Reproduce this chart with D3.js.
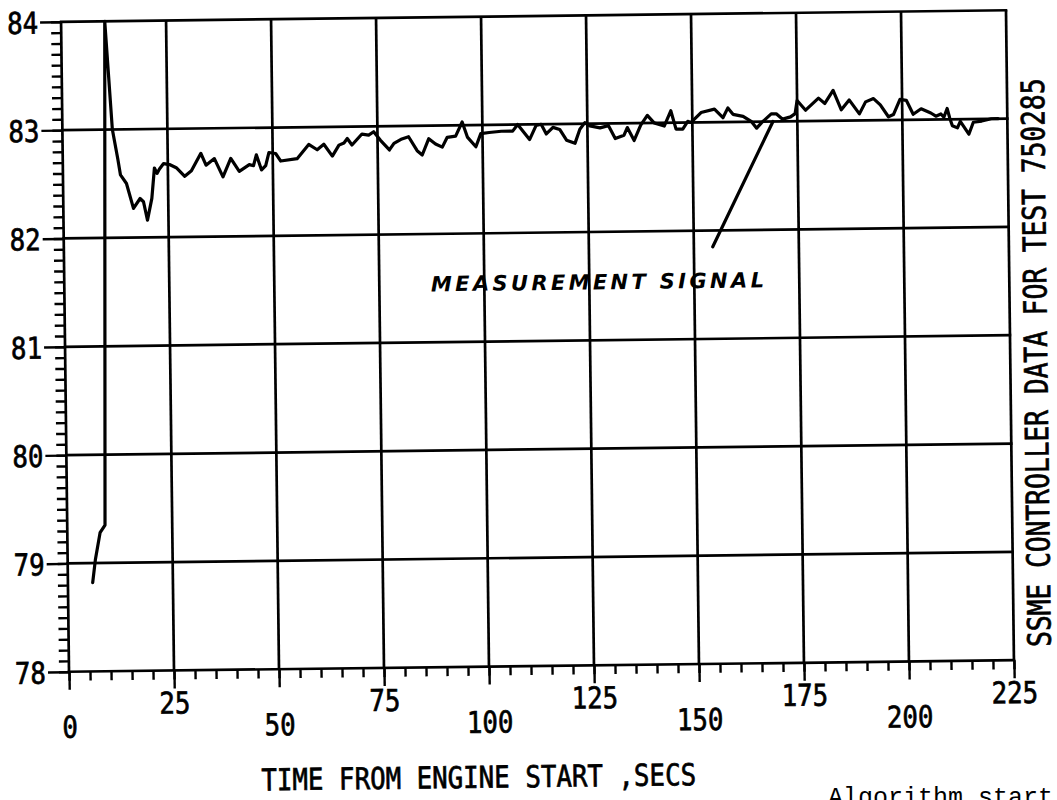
<!DOCTYPE html>
<html>
<head>
<meta charset="utf-8">
<script src="https://cdn.jsdelivr.net/npm/d3@7"></script>
<style>
  html, body { margin: 0; padding: 0; background: #fff; }
  svg { display: block; }
</style>
</head>
<body>
<script>
// Controller measurement trace, time (s) vs. signal value
const timeSecs = [5.9,6.6,7.8,9.0,10.4,11.9,13.1,13.7,15.1,16.7,18.3,19.1,20.0,21.1,21.8,22.4,23.0,24.0,25.4,27.0,29.0,30.6,32.9,34.1,36.1,38.1,40.0,42.0,44.4,45.4,46.1,47.3,48.3,49.1,50.7,51.9,55.8,58.6,60.6,62.2,64.2,65.8,67.0,67.8,68.9,71.3,72.9,74.1,75.7,77.8,78.9,80.8,82.4,84.4,85.6,87.2,88.8,90.4,91.6,93.6,95.2,96.4,98.4,99.6,101.6,104.5,107.2,108.4,111.2,112.8,114.0,115.2,116.8,118.4,120.0,122.0,123.2,124.4,125.6,128.0,130.0,131.6,133.7,134.5,136.1,137.7,139.3,140.9,143.3,144.9,146.1,147.7,148.9,149.7,152.1,155.3,157.3,158.5,159.7,162.1,164.1,165.3,166.5,168.8,170.0,171.5,173.4,174.5,175.0,177.0,180.1,181.6,183.6,185.5,187.4,189.8,191.3,193.2,194.8,196.7,197.9,199.5,201.0,202.6,204.5,206.8,208.0,209.2,209.9,210.7,211.3,211.9,213.1,213.8,215.8,216.9,218.9,221.2,222.8];
const signal = [78.82,79.03,79.28,79.35,84.0,83.0,82.73,82.58,82.50,82.27,82.36,82.33,82.16,82.36,82.64,82.59,82.63,82.68,82.67,82.64,82.56,82.61,82.77,82.66,82.72,82.55,82.72,82.60,82.66,82.65,82.75,82.61,82.65,82.77,82.76,82.69,82.71,82.84,82.79,82.84,82.73,82.83,82.85,82.89,82.83,82.93,82.92,82.95,82.87,82.78,82.84,82.88,82.90,82.77,82.73,82.88,82.83,82.80,82.89,82.90,83.03,82.89,82.80,82.92,82.93,82.94,82.94,83.0,82.86,82.99,83.0,82.91,82.97,82.95,82.85,82.82,82.95,83.01,82.98,82.96,82.98,82.86,82.89,82.96,82.84,82.98,83.07,83.0,82.97,83.11,82.94,82.94,83.01,83.0,83.09,83.12,83.04,83.13,83.07,83.05,83.0,82.94,82.99,83.07,83.07,83.02,83.04,83.07,83.19,83.10,83.21,83.16,83.28,83.10,83.19,83.06,83.17,83.20,83.14,83.03,83.05,83.19,83.18,83.05,83.10,83.06,83.03,83.05,83.02,83.10,83.01,82.94,82.92,82.98,82.86,82.97,82.98,83.0,83.0];

// Axis ticks
const xMajorTicks = [0,25,50,75,100,125,150,175,200,225];
const xMinorTicks = d3.range(0, 226, 5);
const yMajorTicks = [78,79,80,81,82,83,84];
const yMinorTicks = d3.range(780, 841, 1).map(v => v / 10);

// Text
const xTitle = "TIME FROM ENGINE START ,SECS";
const sideTitle = "SSME CONTROLLER DATA FOR TEST 750285";
const noteText = "MEASUREMENT SIGNAL";
const footText = "Algorithm start";
// Annotation pointer: [time, value] at each end, and label anchor
const notePointer = [[169.2, 83.0], [154.5, 81.85]];
const noteAnchor = [87.3, 81.47];

const W = 1057, H = 800;
const plotLeft = 65, plotTop = 16, plotW = 945, plotH = 650;
const plotFont = "'DejaVu Sans Mono', monospace";
const SX = 0.86;

const svg = d3.select("body").append("svg")
  .attr("width", W).attr("height", H)
  .style("background", "#fff");

// the whole plotter sheet sits slightly tilted
const sheet = svg.append("g")
  .attr("transform", `rotate(-0.7, ${plotLeft + plotW / 2}, ${plotTop + plotH / 2})`);

const x = d3.scaleLinear().domain([0, 225]).range([plotLeft, plotLeft + plotW]);
const y = d3.scaleLinear().domain([78, 84]).range([plotTop + plotH, plotTop]);

// plotter pen lettering: thin outline to thicken the strokes
function penText(sel, size) {
  sel.attr("font-family", plotFont).attr("font-size", size)
    .attr("fill", "#000").attr("stroke", "#000").attr("stroke-width", 0.7);
}

// grid
const grid = sheet.append("g").attr("stroke", "#000").attr("stroke-width", 2.7).attr("fill", "none");
grid.selectAll("line.v").data(xMajorTicks).join("line")
  .attr("class", "v")
  .attr("x1", d => x(d)).attr("x2", d => x(d))
  .attr("y1", y(78)).attr("y2", y(84));
grid.selectAll("line.h").data(yMajorTicks).join("line")
  .attr("class", "h")
  .attr("x1", x(0) - 1.3).attr("x2", x(225) + 1.3)
  .attr("y1", d => y(d)).attr("y2", d => y(d));

function styleAxis(g) {
  g.select(".domain").remove();
  g.selectAll(".tick line").attr("stroke", "#000").attr("stroke-width", 2.4);
}

// y axis: minor and major ticks outside the frame
sheet.append("g")
  .attr("transform", `translate(${x(0)},0)`)
  .call(d3.axisLeft(y).tickValues(yMinorTicks).tickSize(10).tickFormat(""))
  .call(styleAxis);
const yAxis = sheet.append("g")
  .attr("transform", `translate(${x(0)},0)`)
  .call(d3.axisLeft(y).tickValues(yMajorTicks).tickSize(21).tickFormat(d3.format("d")))
  .call(styleAxis);
yAxis.selectAll(".tick text")
  .call(penText, 30)
  .attr("text-anchor", "end")
  .attr("x", -23 / SX).attr("dy", 11)
  .attr("transform", `scale(${SX},1)`);

// x axis: minor and major ticks below, labels staggered
sheet.append("g")
  .attr("transform", `translate(0,${y(78)})`)
  .call(d3.axisBottom(x).tickValues(xMinorTicks).tickSize(9).tickFormat(""))
  .call(styleAxis);
const xAxis = sheet.append("g")
  .attr("transform", `translate(0,${y(78)})`)
  .call(d3.axisBottom(x).tickValues(xMajorTicks).tickSize(18).tickFormat(d3.format("d")))
  .call(styleAxis);
xAxis.selectAll(".tick text")
  .call(penText, 30)
  .attr("text-anchor", "middle")
  .attr("y", (d, i) => (i % 2 === 1 ? 43 : 66)).attr("dy", 0)
  .attr("transform", `scale(${SX},1)`);

// axis title
sheet.append("text")
  .attr("transform", `translate(256,787) scale(${SX},1)`)
  .call(penText, 30)
  .text(xTitle);

// side title
sheet.append("text")
  .attr("transform", `translate(1047,653) rotate(-90) scale(0.82,1)`)
  .call(penText, 32)
  .text(sideTitle);

// measurement trace
const line = d3.line().x(d => x(d[0])).y(d => y(d[1]));
sheet.append("path")
  .datum(timeSecs.map((t, i) => [t, signal[i]]))
  .attr("d", line)
  .attr("fill", "none").attr("stroke", "#000")
  .attr("stroke-width", 3.2).attr("stroke-linejoin", "round").attr("stroke-linecap", "round");

// hand-drawn annotation
sheet.append("line")
  .attr("x1", x(notePointer[0][0])).attr("y1", y(notePointer[0][1]))
  .attr("x2", x(notePointer[1][0])).attr("y2", y(notePointer[1][1]))
  .attr("stroke", "#000").attr("stroke-width", 3.2).attr("stroke-linecap", "round");
sheet.append("text")
  .attr("x", x(noteAnchor[0])).attr("y", y(noteAnchor[1]))
  .attr("font-family", "'DejaVu Sans', sans-serif").attr("font-style", "italic")
  .attr("font-weight", "bold")
  .attr("font-size", 21).attr("fill", "#000")
  .attr("textLength", 333).attr("lengthAdjust", "spacing")
  .text(noteText);

// caption below the sheet
svg.append("text")
  .attr("x", 828).attr("y", 805)
  .attr("font-family", "'Liberation Mono', monospace").attr("font-size", 25).attr("fill", "#000")
  .text(footText);
</script>
</body>
</html>
